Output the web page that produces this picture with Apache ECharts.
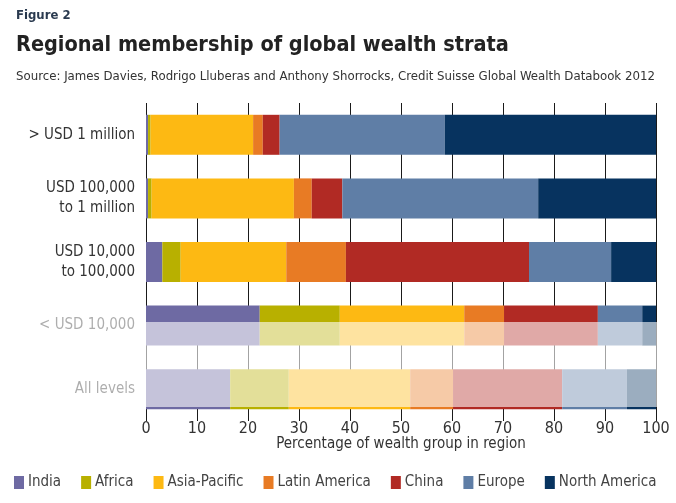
<!DOCTYPE html>
<html>
<head>
<meta charset="utf-8">
<script src="https://cdn.jsdelivr.net/npm/echarts@6/dist/echarts.min.js"></script>
<style>
html,body{margin:0;padding:0;background:#fff;}
#chart{width:676px;height:503px;}
</style>
</head>
<body>
<div id="chart"></div>
<script>
var categories = ['> USD 1 million', 'USD 100,000\nto 1 million', 'USD 10,000\nto 100,000', '< USD 10,000', 'All levels'];
var india        = [0.4, 0.4, 3.2, 22.3, 16.5];
var africa       = [0.5, 0.7, 3.6, 15.7, 11.5];
var asiaPacific  = [20.1, 27.9, 20.7, 24.4, 23.8];
var latinAmerica = [1.9, 3.5, 11.7, 7.8, 8.4];
var china        = [3.3, 6.0, 35.9, 18.4, 21.4];
var europe       = [32.4, 38.4, 16.1, 8.7, 12.7];
var northAmerica = [41.4, 23.1, 8.8, 2.7, 5.7];
var xTicks = [0, 10, 20, 30, 40, 50, 60, 70, 80, 90, 100];

var seriesNames = ['India', 'Africa', 'Asia-Pacific', 'Latin America', 'China', 'Europe', 'North America'];
var seriesData = [india, africa, asiaPacific, latinAmerica, china, europe, northAmerica];
var colors = ['#6e6aa3', '#b8b000', '#fdb913', '#e87b24', '#b12a24', '#5f7ea6', '#07335f'];

var FONT = '"Liberation Sans Narrow", "DejaVu Sans Condensed", "Liberation Sans", sans-serif';

var chart = echarts.init(document.getElementById('chart'), null, {renderer: 'canvas'});
var option = {
  animation: false,
  backgroundColor: '#ffffff',
  color: colors,
  textStyle: {fontFamily: FONT},
  title: [
    {text: 'Figure 2', left: 16, top: 9, padding: 0, textStyle: {fontSize: 13, fontWeight: 'bold', color: '#2a3a4f', fontFamily: FONT}},
    {text: 'Regional membership of global wealth strata', left: 16, top: 34, padding: 0, textStyle: {fontSize: 21.5, fontWeight: 'bold', color: '#222222', fontFamily: FONT}},
    {text: 'Source: James Davies, Rodrigo Lluberas and Anthony Shorrocks, Credit Suisse Global Wealth Databook 2012', left: 16, top: 70, padding: 0, textStyle: {fontSize: 13.1, fontWeight: 'normal', color: '#333333', fontFamily: FONT}}
  ],
  legend: {
    data: seriesNames,
    left: 14,
    top: 475,
    width: 662,
    padding: 0,
    itemWidth: 10,
    itemHeight: 13,
    itemGap: 20,
    icon: 'rect',
    textStyle: {fontSize: 15, color: '#444444', fontFamily: FONT, padding: [0, 0, 0, -1]}
  },
  grid: {left: 146, right: 20, top: 103, bottom: 82, containLabel: false},
  xAxis: {
    type: 'value',
    min: 0, max: 100, interval: 10,
    axisLine: {show: false},
    axisTick: {show: false},
    splitLine: {show: true, lineStyle: {color: '#1a1a1a', width: 1}},
    axisLabel: {fontSize: 16, color: '#333333', margin: 0, fontFamily: FONT,
      formatter: function (v) { return xTicks.indexOf(v) >= 0 ? String(v) : ''; }},
    name: 'Percentage of wealth group in region',
    nameLocation: 'middle',
    nameMoveOverlap: false,
    nameGap: 16,
    nameTextStyle: {fontSize: 15, color: '#333333', fontFamily: FONT}
  },
  yAxis: {
    type: 'category',
    inverse: true,
    data: categories,
    axisLine: {show: false},
    axisTick: {show: false},
    axisLabel: {fontSize: 15, color: '#333333', margin: 11, lineHeight: 20, fontFamily: FONT}
  },
  series: seriesNames.map(function (name, i) {
    return {
      name: name,
      type: 'bar',
      stack: 'total',
      barWidth: 40,
      data: seriesData[i],
      itemStyle: {color: colors[i]}
    };
  }),
  graphic: [
    {type: 'polygon', z: 100, silent: true,
      shape: {points: [[0, 311], [146, 311], [146, 322], [676, 322], [676, 407], [0, 407]]},
      style: {fill: 'rgba(255,255,255,0.6)'}}
  ]
};
chart.setOption(option);
</script>
</body>
</html>
